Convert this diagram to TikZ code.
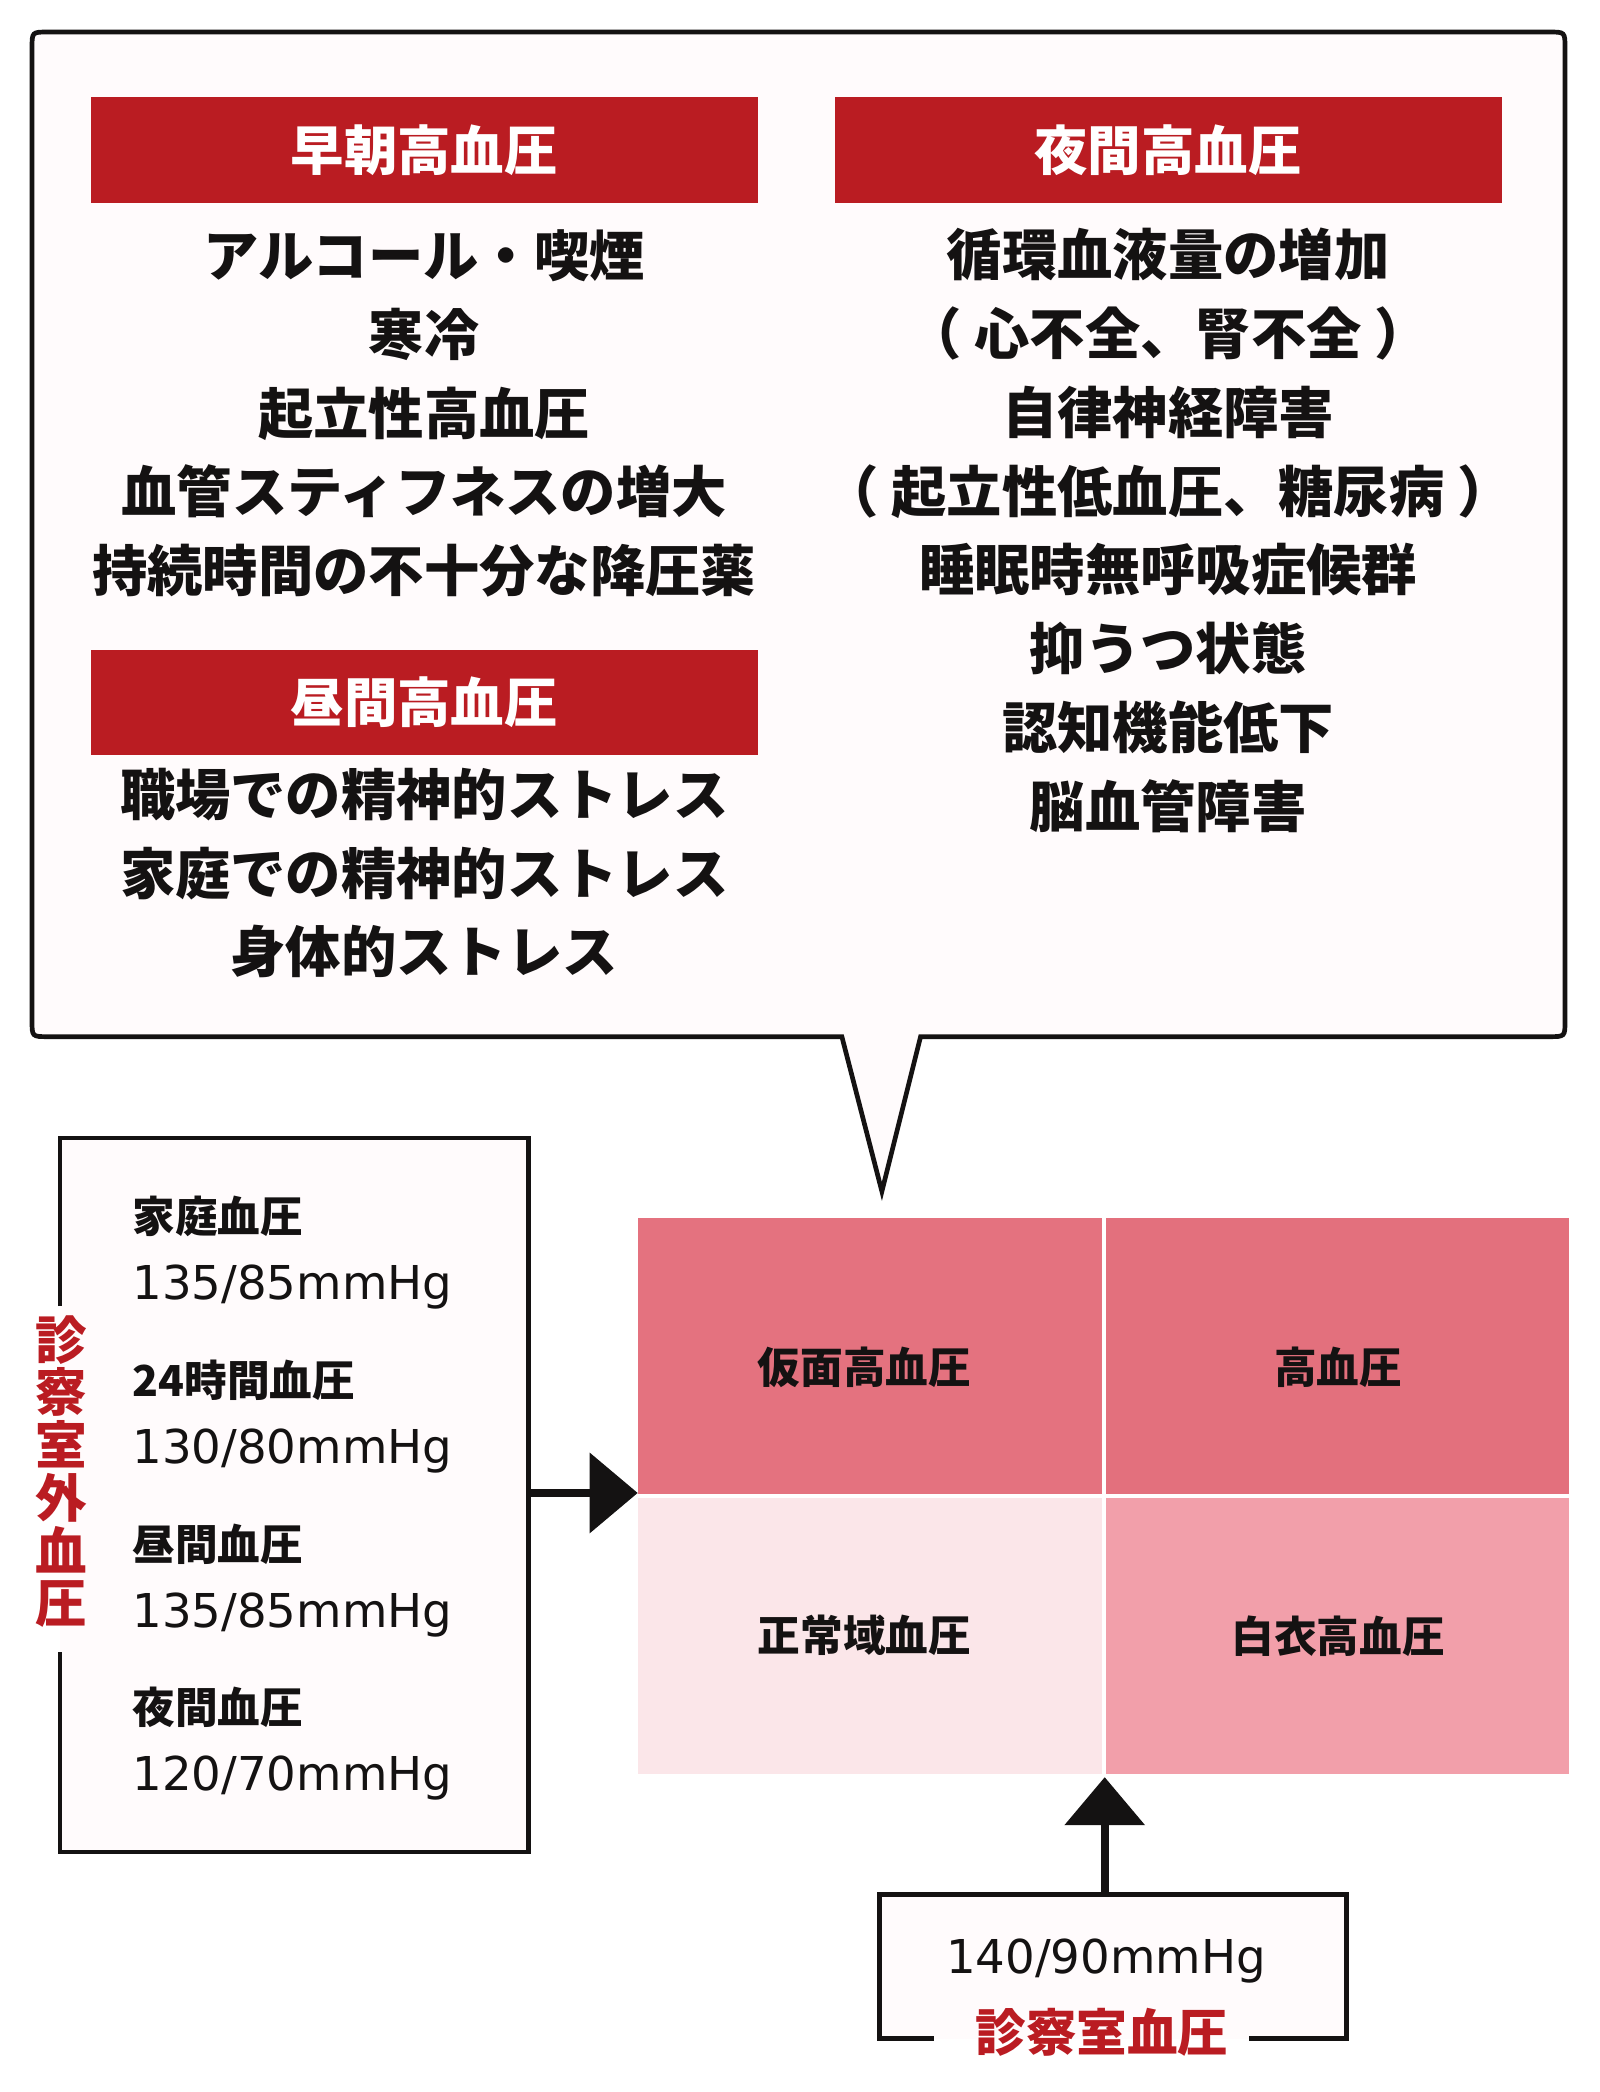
\documentclass[tikz,border=0pt]{standalone}
\usepackage{fontspec}
\usepackage{xcolor}
\usepackage{tikz}
\usetikzlibrary{arrows.meta,positioning}
\setmainfont{DejaVu Sans}
\newfontfamily\jp{Noto Sans CJK JP}
\definecolor{hdred}{RGB}{186,28,34}
\definecolor{inkc}{RGB}{20,18,18}
\definecolor{paper}{RGB}{255,251,252}
\definecolor{maskc}{RGB}{228,114,127}
\definecolor{htnc}{RGB}{227,112,125}
\definecolor{normc}{RGB}{251,230,233}
\definecolor{coatc}{RGB}{242,159,170}

\begin{document}
\begin{tikzpicture}[x=0.02cm,y=-0.02cm,line join=miter,
	hdr/.style={fill=hdred,text=white,minimum width=10cm,minimum height=1.58cm,inner sep=0pt,font=\jp\bfseries\fontsize{22.8}{27}\selectfont},
	lst/.style={align=center,text=inkc,inner sep=0pt,font=\jp\bfseries\fontsize{23.6}{33.6}\selectfont},
	bplbl/.style={anchor=west,text=inkc,inner sep=0pt,font=\jp\bfseries\fontsize{18.2}{20}\selectfont},
	bpnum/.style={anchor=west,text=inkc,inner sep=0pt,font=\fontsize{19.9}{22}\selectfont},
	cell/.style={minimum width=6.95cm,minimum height=4.14cm,inner sep=0pt},
	celltxt/.style={text=inkc,inner sep=0pt,font=\jp\bfseries\fontsize{18.2}{20}\selectfont},
	redlbl/.style={text=hdred,inner sep=0pt,font=\jp\bfseries\fontsize{22}{22.5}\selectfont},
	frame/.style={draw=inkc,line width=2pt},
	bigarrow/.style={draw=inkc,line width=3.5pt,-{Triangle[length=20.5pt,width=33.6pt]}}]
	\useasboundingbox (0,0) rectangle (1199,1568);
	\fill[white] (0,0) rectangle (1199,1568);
	\draw[frame,fill=paper] (631,777) -- (36,777) .. controls (24,777) .. (24,765) -- (24,36) .. controls (24,24) .. (36,24) -- (1161,24) .. controls (1173,24) .. (1173,36) -- (1173,765) .. controls (1173,777) .. (1161,777) -- (690,777) -- (661,893) -- cycle;
	\node[hdr] (hmorn) at (318,112.5) {早朝高血圧};
	\node[hdr] (hnight) at (875.5,112.5) {夜間高血圧};
	\node[hdr] (hday) at (318,526.5) {昼間高血圧};
	\node[lst] (lmorn) at (318,310) {アルコール・喫煙\\寒冷\\起立性高血圧\\血管スティフネスの増大\\持続時間の不十分な降圧薬};
	\node[lst] (lnight) at (875.5,397.5) {循環血液量の増加\\（ 心不全、腎不全 ）\\自律神経障害\\（ 起立性低血圧、糖尿病 ）\\睡眠時無呼吸症候群\\抑うつ状態\\認知機能低下\\脳血管障害};
	\node[lst] (lday) at (318,654.5) {職場での精神的ストレス\\家庭での精神的ストレス\\身体的ストレス};
	\fill[paper] (45,853) rectangle (396,1388);
	\draw[frame] (45,979) |- (396,853) |- (45,1388) -- (45,1238);
	\node[redlbl,align=center] (outlbl) at (46,1103) {診\\察\\室\\外\\血\\圧};
	\foreach \lbl/\num/\den [count=\i] in {家庭血圧/135/85,24時間血圧/130/80,昼間血圧/135/85,夜間血圧/120/70}
	{
		\pgfmathsetmacro\yy{912+(\i-1)*122.67}
		\node[bplbl] (lbl\i) at (99,\yy) {\lbl};
		\node[bpnum] (num\i) at (99,\yy+53) {\num/\den mmHg};
	}
	\node[cell,fill=maskc] (cmask) at (652,1016.5) {};
	\node[cell,fill=htnc] (chtn) at (1002.5,1016.5) {};
	\node[cell,fill=normc] (cnorm) at (652,1226.5) {};
	\node[cell,fill=coatc] (ccoat) at (1002.5,1226.5) {};
	\node[celltxt] (tmask) at (648,1025) {仮面高血圧};
	\node[celltxt] (thtn) at (1003,1025) {高血圧};
	\node[celltxt] (tnorm) at (648,1226) {正常域血圧};
	\node[celltxt] (tcoat) at (1003,1226) {白衣高血圧};
	\coordinate (outbox) at (396,1119);
	\coordinate (gridw) at (478,1119);
	\draw[bigarrow] (outbox) -- (gridw);
	\fill[paper] (659,1420) rectangle (1009,1528);
	\draw[frame] (700,1528) -| (659,1420) -| (1009,1528) -- (936,1528);
	\node[bpnum,anchor=center] (inval) at (829,1470) {140/90mmHg};
	\node[redlbl,font=\jp\bfseries\fontsize{21.6}{22}\selectfont] (inlbl) at (826,1523) {診察室血圧};
	\coordinate (inbox) at (828,1420);
	\coordinate (grids) at (828,1332);
	\draw[bigarrow] (inbox) -- (grids);
\end{tikzpicture}
\end{document}
